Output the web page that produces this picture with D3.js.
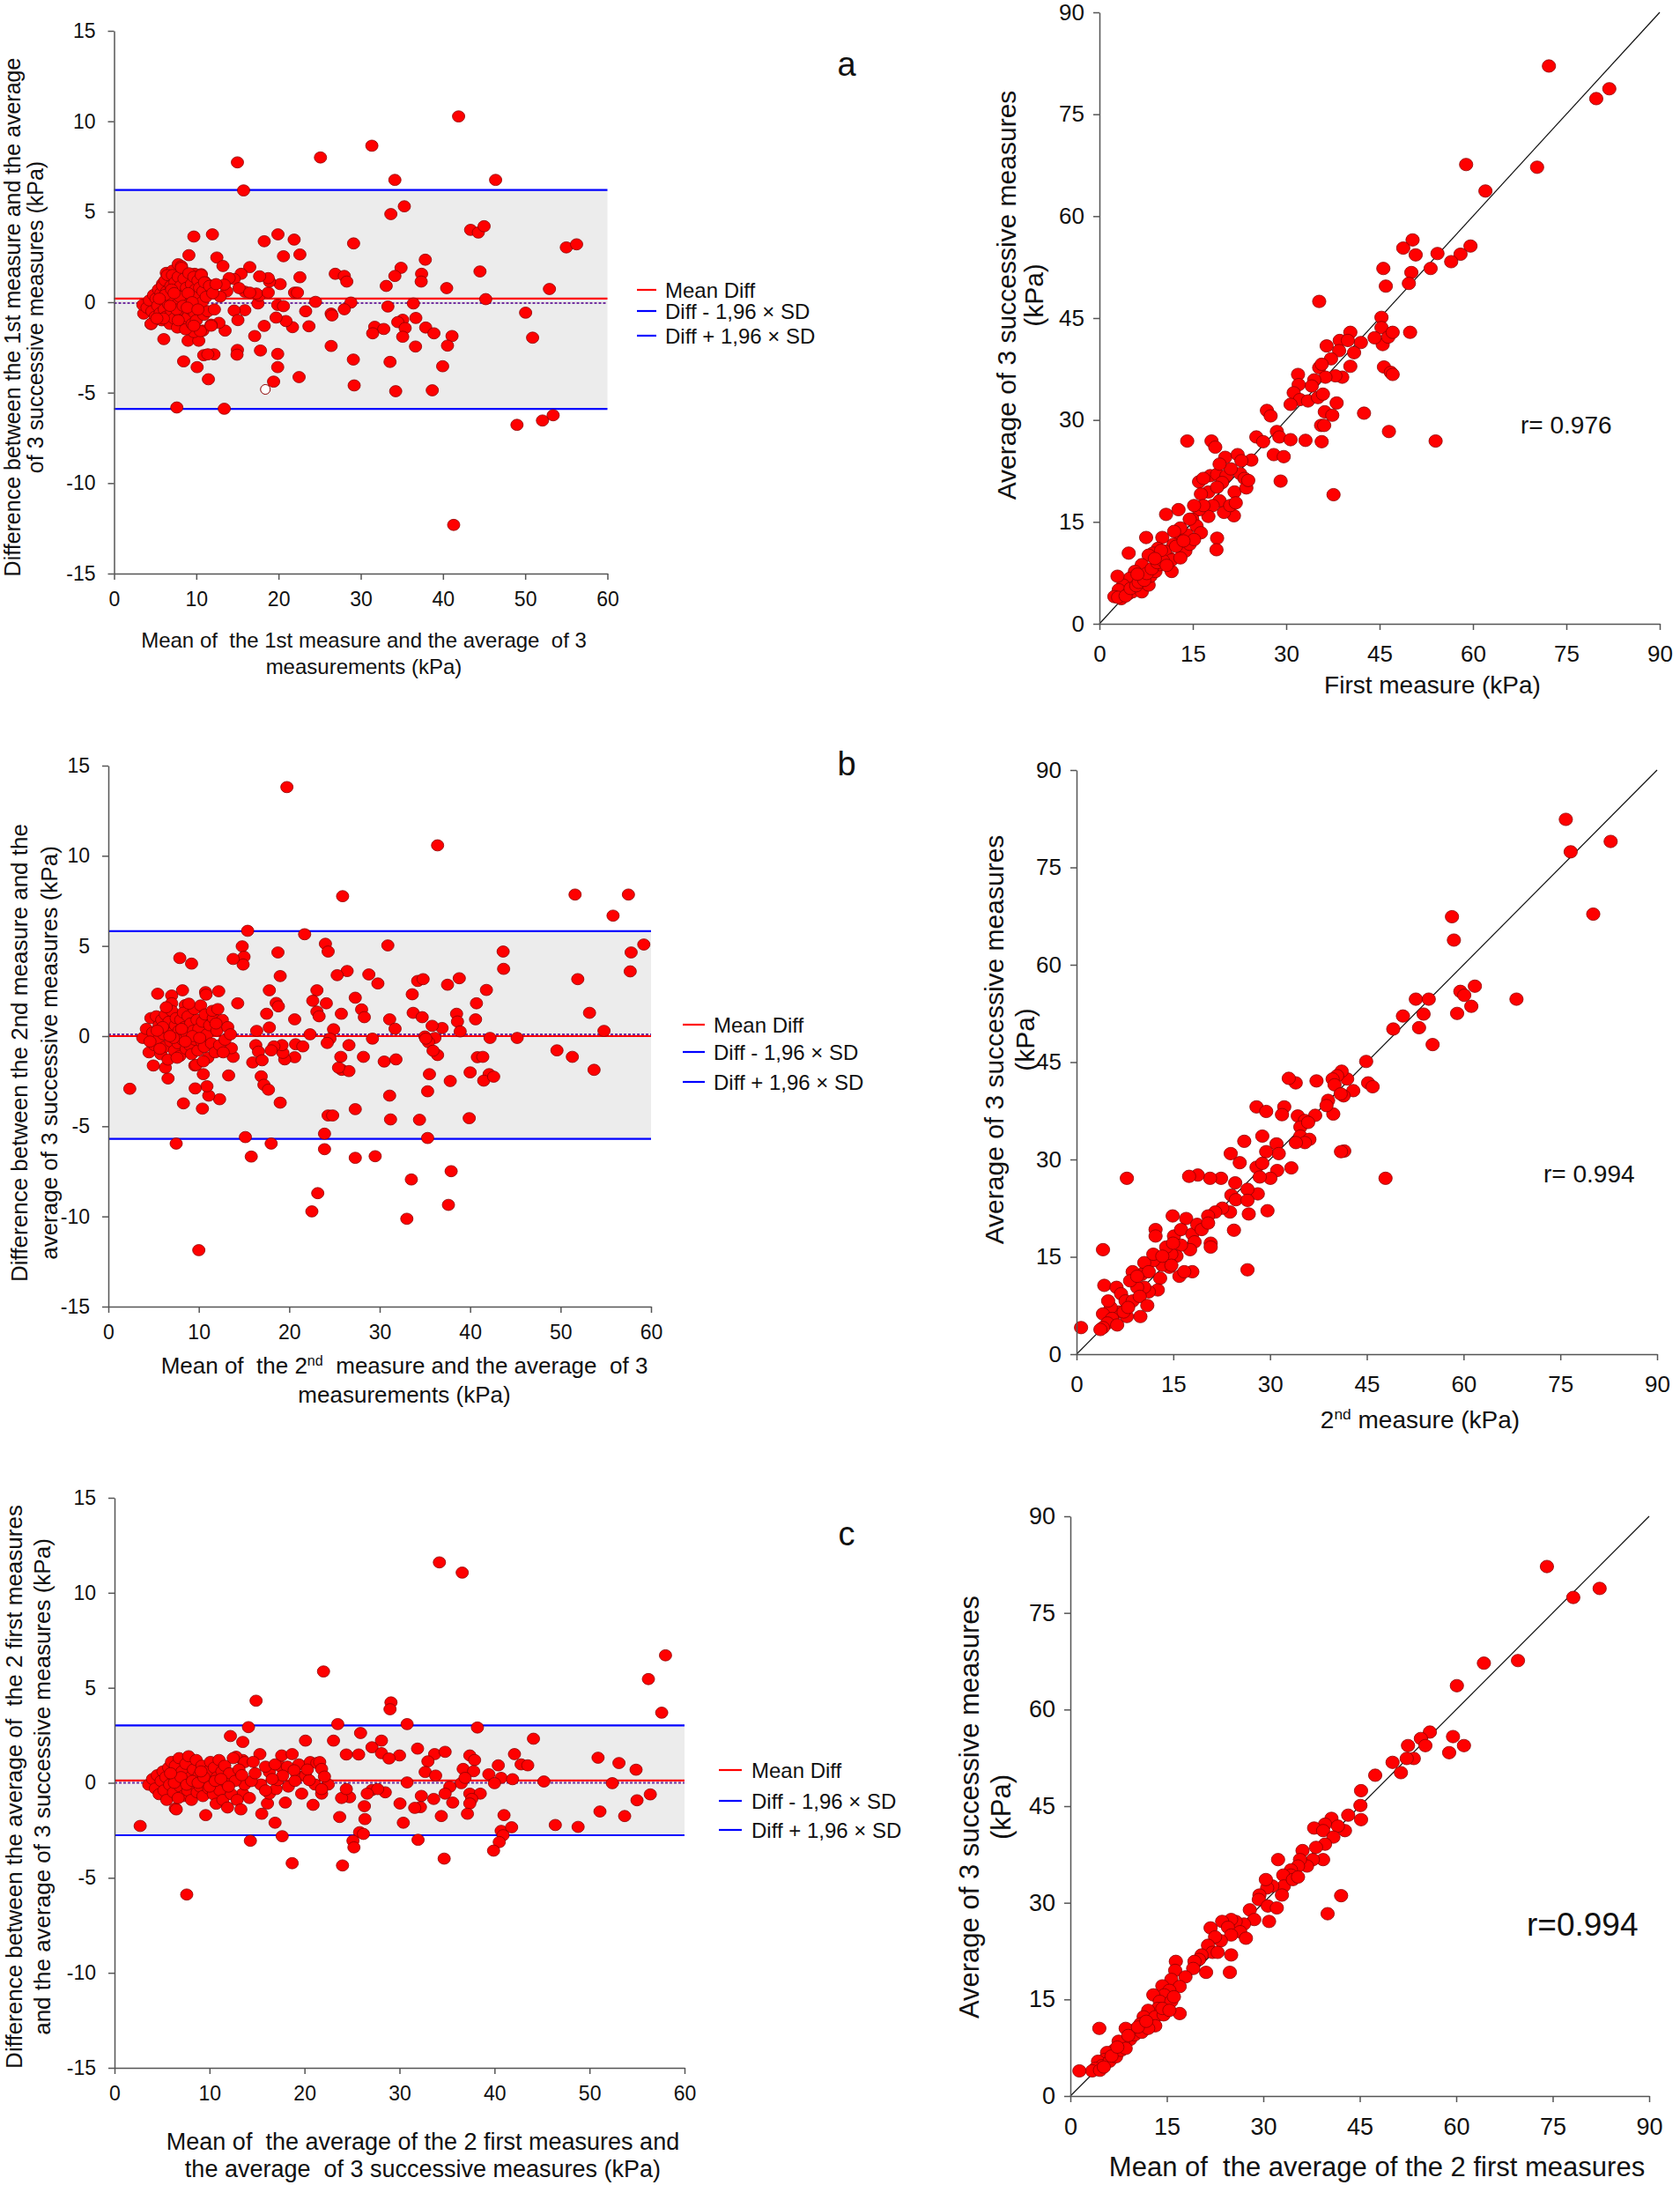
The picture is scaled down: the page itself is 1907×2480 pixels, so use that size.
<!DOCTYPE html>
<html><head><meta charset="utf-8">
<script src="https://cdn.jsdelivr.net/npm/d3@7"></script>
<style>
body{margin:0;background:#fff;}
svg{display:block;}
text{font-family:"Liberation Sans",Arial,sans-serif;fill:#111;}
</style>
</head><body>
<svg id="chart" width="1907" height="2480"></svg>
<script>
// ---------------- DATA ----------------
const baXTicks = [0,10,20,30,40,50,60];
const baYTicks = [-15,-10,-5,0,5,10,15];
const corrTicks = [0,15,30,45,60,75,90];
const legendLabels = ["Mean Diff","Diff - 1,96 \u00d7 SD","Diff + 1,96 \u00d7 SD"];
const meanDiffs = [0.2, 0.0, 0.12];
const dottedDiffs = [-0.05, 0.1, 0.0];
const lowerLimits = [-5.9, -5.7, -2.76];
const upperLimits = [6.2, 5.82, 3.02];
const rLabels = ["r= 0.976","r= 0.994","r=0.994"];
const panelLetters = ["a","b","c"];

const aHollowPts = [[18.4,-4.82]];
const aBlandPts = [
[41.9,10.27],[31.35,8.65],[25.1,8.0],[15.0,7.73],[34.15,6.76],[46.4,6.76],[15.75,6.18],[33.66,4.87],[35.3,5.3],[43.36,4.0],[44.3,3.85],[45.0,4.2],[55.0,3.03],[56.25,3.2],[29.13,3.25],[9.7,3.63],[11.96,3.75],[18.26,3.37],[19.93,3.75],[21.9,3.46],[22.6,2.64],[20.6,2.54],[9.1,2.6],[12.5,2.47],[37.85,2.35],[34.9,1.9],[44.5,1.7],[13.24,2.0],[16.5,1.94],[22.6,1.38],[26.9,1.57],[28.0,1.45],[28.3,1.14],[34.15,1.45],[37.4,1.57],[37.35,1.14],[33.1,0.9],[40.45,0.78],[52.95,0.73],[20.2,1.0],[21.95,0.53],[22.3,0.53],[24.5,0.02],[28.8,-0.02],[36.4,-0.07],[45.2,0.17],[33.3,-0.24],[19.9,-0.15],[20.6,-0.22],[28.0,-0.39],[23.3,-0.5],[26.4,-0.63],[26.5,-0.73],[50.05,-0.58],[36.7,-0.87],[35.1,-0.97],[34.5,-1.1],[31.7,-1.36],[32.8,-1.48],[35.4,-1.43],[31.45,-1.72],[37.9,-1.4],[38.9,-1.72],[35.1,-1.91],[41.1,-1.87],[50.9,-1.96],[40.55,-2.4],[36.66,-2.45],[26.4,-2.42],[23.7,-1.33],[21.7,-1.38],[20.9,-1.04],[19.7,-0.85],[18.26,-1.31],[17.1,-1.87],[17.8,-2.67],[19.9,-2.86],[19.9,-3.59],[15.0,-2.64],[14.95,-2.9],[22.5,-4.14],[19.4,-4.39],[29.1,-3.17],[33.56,-3.3],[39.96,-3.54],[29.2,-4.6],[34.25,-4.92],[38.7,-4.87],[11.47,-4.26],[10.1,-3.59],[8.46,-3.27],[10.9,-2.93],[12.15,-2.88],[11.4,-2.88],[7.63,-5.82],[13.4,-5.89],[49.0,-6.78],[52.1,-6.54],[53.4,-6.25],[41.3,-12.31],[13.5,-1.57],[12.75,-1.14],[11.8,-1.24],[15.9,-0.44],[14.6,-0.46],[15.06,-0.99],[9.0,-2.13],[10.3,-2.13],[6.05,-2.04],[9.7,-1.65],[10.8,-1.57],[17.5,-0.07],[17.67,0.36],[17.3,0.48],[18.75,0.53],[18.9,1.14],[18.75,1.33],[17.7,1.43],[15.9,0.58],[15.45,1.57],[14.6,1.28],[14.0,1.33],[13.7,0.6],[12.9,0.31],[12.0,0.9],[13.4,0.97],[15.2,0.78],[16.5,0.53],
[3.6,-0.63],[3.5,-0.15],[4.5,-1.21],[4.1,-0.3],[4.9,0.17],[5.4,0.65],[5.9,1.02],[6.35,1.62],[7.1,1.74],[7.3,1.14],[7.8,2.1],[8.2,1.99],[8.6,1.5],[9.3,1.43],[9.8,1.57],[10.6,1.55],[11.0,1.14],[11.5,0.95],
[4.0,-0.3],[4.3,0.1],[4.6,-0.5],[4.8,0.4],[5.0,-0.8],[5.1,0.2],[5.3,-0.2],[5.4,0.7],[5.6,-0.6],[5.7,0.5],[5.8,-1.0],[5.9,0.9],[6.0,0.1],[6.1,-0.4],[6.2,1.2],[6.3,-0.8],[6.4,0.6],[6.5,1.5],[6.6,-0.1],[6.7,0.3],[6.8,-1.2],[6.9,0.9],[7.0,-0.5],[7.1,1.5],[7.2,0.2],[7.3,-0.9],[7.4,1.1],[7.5,-0.2],[7.6,0.6],[7.7,-1.4],[7.8,1.4],[7.9,0.0],[8.0,-0.6],[8.1,0.9],[8.2,1.9],[8.3,-1.0],[8.4,0.4],[8.5,1.3],[8.6,-0.3],[8.7,-1.5],[8.8,0.8],[8.9,0.1],[9.0,-0.8],[9.1,1.6],[9.2,0.4],[9.3,-0.4],[9.4,1.0],[9.5,-1.2],[9.6,0.2],[9.7,1.4],[9.8,-0.6],[9.9,0.7],[10.0,-1.0],[10.1,0.3],[10.2,1.2],[10.3,-0.2],[10.4,0.8],[10.5,-1.6],[10.6,1.5],[10.7,0.0],[10.8,0.6],[10.9,-0.7],[11.0,1.1],[11.2,0.3],[11.4,-0.5],[11.6,0.9],[11.8,-1.3],[12.0,0.5],[12.2,-0.4],[12.4,1.0],[6.2,0.4],[7.0,0.7],[7.6,-0.4],[8.0,0.3],[8.4,-0.2],[9.0,0.5],[9.5,0.0],[6.8,-0.2],[5.5,0.2],[7.3,0.5],[8.9,-0.3],[10.2,-0.4],[6.0,-0.9],[7.8,-1.0],[9.7,-1.3],[4.5,-1.2],[5.2,-0.9]
];
const aCorrPts = [
[72.2,82.1],[81.9,78.75],[79.8,77.3],[58.9,67.6],[70.3,67.2],[62.0,63.7],[50.3,56.5],[48.8,55.3],[50.8,54.3],[54.3,54.5],[59.6,55.6],[58.0,54.4],[56.5,53.3],[53.2,52.3],[45.6,52.3],[50.1,51.7],[49.7,50.1],[46.0,49.7],[35.3,47.45],[45.3,45.1],[45.3,43.6],[45.5,41.1],[46.4,42.2],[47.1,42.9],[49.9,42.9],[44.2,42.1],[42.0,41.4],[40.3,42.9],[38.6,41.7],[39.9,41.7],[40.9,39.9],[38.5,40.2],[36.5,40.9],[45.7,37.8],[46.8,37.0],[47.1,36.7],[37.2,39.0],[35.3,37.7],[35.7,38.2],[40.3,37.9],[39.0,36.3],[37.9,36.5],[36.3,36.3],[34.5,35.9],[34.1,35.0],[31.9,36.7],[32.0,35.2],[31.2,34.0],[32.2,33.0],[33.5,32.8],[35.1,33.3],[35.9,33.8],[30.7,32.3],[38.1,32.5],[36.2,31.2],[37.4,30.7],[42.5,31.0],[35.6,29.2],[36.1,29.2],[35.7,26.8],[46.5,28.3],[54.0,26.9],[37.6,19.0],[26.9,31.4],[27.5,30.6],[28.5,28.3],[28.9,27.5],[28.0,24.9],[29.6,24.6],[30.7,27.1],[33.1,27.0],[25.2,27.5],[26.3,26.8],[24.4,24.1],[29.1,21.0],[14.1,26.9],[18.0,26.9],[18.6,26.0],[20.2,24.5],[22.2,24.9],[22.8,24.0],[22.6,22.1],[23.3,21.4],[21.7,19.4],[23.6,20.0],[21.6,15.9],[20.0,16.4],[18.9,12.6],[18.8,10.9],[17.8,21.8],[16.0,20.9],[16.7,21.4],[18.9,22.0],[20.4,21.8],[19.7,20.8],[17.5,19.4],[16.3,19.1],[18.9,20.1],[19.3,18.1],[18.2,17.4],[17.5,15.8],[16.0,16.8],[14.9,15.4],[15.6,14.4],[16.3,13.4],[14.1,13.1],[13.0,14.1],[12.7,16.8],[10.7,16.1],[12.9,12.1],[11.9,11.7],[11.2,9.7],[11.6,7.7],[10.1,12.7],[9.4,11.1],[10.5,10.7],[8.6,10.4],[7.5,12.7],[7.9,10.1],[6.8,8.7],[4.7,10.4],[6.8,6.7],[5.7,7.7],[4.9,6.7],[3.8,5.7],[2.9,7.0],[3.1,5.0],[2.4,4.0],[3.5,3.7],[4.6,4.4],[5.3,4.7],[6.8,4.7],[7.9,5.7],[8.2,7.0],[9.0,7.7],[9.7,8.7],[11.6,9.4],[13.8,10.7],[13.0,9.7],[14.5,11.7],[15.2,12.4],[14.5,15.4],[16.7,17.4],[15.2,17.4],[21.0,17.4],[21.9,17.8],[23.9,21.1],[21.1,22.8],[19.3,23.5],
[3.0,3.9],[4.2,4.1],[5.0,5.2],[5.9,5.6],[6.3,6.1],[7.2,6.4],[7.6,7.4],[8.4,8.1],[9.3,9.0],[10.2,9.3],[10.8,8.6],[12.3,11.4],[13.5,12.2],[9.9,10.8],[8.9,9.6],[6.1,7.3],[12.0,13.6]
];

const bBlandPts = [
[19.74,13.81],[36.4,10.58],[25.9,7.76],[51.6,7.85],[57.5,7.85],[55.8,6.68],[59.2,5.08],[57.8,4.64],[57.7,3.59],[51.9,3.16],[53.2,1.29],[54.8,0.29],[15.4,5.84],[21.7,5.65],[30.9,5.03],[24.0,5.12],[24.3,4.69],[14.8,4.98],[15.0,4.4],[14.9,3.97],[13.8,4.28],[7.9,4.33],[9.2,4.02],[18.75,4.64],[43.65,4.69],[43.7,3.73],[26.4,3.61],[25.3,3.38],[28.8,3.42],[29.8,2.92],[19.0,3.33],[37.5,2.85],[38.8,3.21],[34.2,3.06],[34.8,3.16],[23.06,2.54],[17.8,2.54],[12.2,2.49],[10.75,2.44],[8.2,2.54],[7.0,2.25],[5.45,2.35],[33.6,2.32],[41.8,2.56],[27.3,2.13],[22.6,1.96],[24.1,1.82],[40.7,1.82],[14.3,1.82],[18.56,1.84],[18.8,1.65],[7.0,1.82],[8.5,1.72],[17.5,1.24],[23.06,1.36],[23.3,1.1],[25.76,1.24],[28.0,1.48],[28.3,1.05],[31.1,0.93],[31.7,0.41],[33.7,1.29],[34.7,1.05],[38.5,1.24],[38.6,0.81],[40.6,0.93],[38.9,0.26],[36.9,0.45],[35.8,0.57],[24.9,0.38],[20.6,0.93],[16.4,0.29],[17.8,0.48],[22.3,0.1],[29.2,-0.14],[35.0,-0.02],[36.1,-0.1],[42.2,-0.1],[45.2,-0.1],[49.6,-0.79],[51.3,-1.15],[53.7,-1.87],[40.8,-1.17],[41.4,-1.15],[42.1,-2.11],[41.5,-2.47],[42.6,-2.25],[35.4,-0.34],[35.1,-0.14],[36.4,-1.05],[35.9,-0.81],[35.5,-2.11],[35.3,-3.06],[31.1,-3.3],[31.2,-4.62],[34.4,-4.64],[39.9,-4.55],[35.3,-5.65],[30.5,-1.41],[31.8,-1.29],[28.2,-1.15],[26.6,-0.5],[25.7,-1.15],[25.8,-1.87],[26.6,-1.94],[25.45,-1.75],[24.5,-0.14],[24.2,-0.38],[20.7,-0.45],[21.5,-0.57],[20.6,-1.17],[19.5,-1.29],[19.3,-0.93],[19.2,-0.5],[18.3,-0.57],[18.0,-0.79],[16.3,-0.5],[16.6,-0.86],[15.96,-1.46],[17.0,-1.34],[16.9,-2.23],[17.2,-2.7],[17.7,-2.97],[19.0,-3.69],[13.3,-2.18],[13.8,-1.15],[13.6,-0.67],[12.3,-3.5],[11.1,-3.3],[10.9,-2.78],[10.4,-4.02],[9.6,-2.9],[10.5,-2.11],[9.56,-1.63],[8.3,-3.73],[6.6,-2.35],[6.3,-1.75],[4.97,-1.63],[2.37,-2.92],[24.3,-4.4],[24.8,-4.4],[27.3,-4.05],[37.8,-2.49],[40.0,-2.01],[15.15,-5.6],[15.8,-6.68],[18.0,-5.96],[7.5,-5.96],[23.9,-5.41],[23.9,-6.27],[27.3,-6.75],[29.5,-6.66],[23.15,-8.71],[22.5,-9.72],[33.5,-7.95],[33.0,-10.13],[37.9,-7.49],[37.6,-9.36],[10.0,-11.87],
[3.8,-0.1],[4.2,0.4],[4.5,-0.9],[4.7,1.0],[4.9,0.2],[5.1,-0.5],[5.3,1.1],[5.5,-0.2],[5.6,0.6],[5.8,-1.0],[5.9,0.9],[6.1,0.1],[6.2,-0.6],[6.3,1.2],[6.5,0.4],[6.6,-1.3],[6.7,0.8],[6.9,-0.3],[7.0,1.4],[7.1,0.2],[7.3,-0.8],[7.4,0.6],[7.5,1.0],[7.7,-0.4],[7.8,0.3],[7.9,-1.1],[8.0,0.9],[8.2,-0.2],[8.3,1.3],[8.4,0.5],[8.6,-0.7],[8.7,0.1],[8.8,1.1],[9.0,-0.5],[9.1,0.7],[9.2,-1.0],[9.4,0.3],[9.5,1.5],[9.6,-0.2],[9.8,0.9],[9.9,-0.8],[10.0,0.4],[10.2,1.7],[10.3,-0.3],[10.4,0.8],[10.6,-0.6],[10.7,1.2],[10.9,0.1],[11.0,-1.2],[11.2,0.6],[11.4,-0.4],[11.6,1.0],[11.8,-0.9],[12.0,0.3],[12.3,-0.5],[12.6,0.9],[12.9,-0.2],[13.2,0.5],[6.0,0.5],[7.2,-0.1],[8.1,0.4],[9.3,0.0],[10.1,-0.1],[5.4,0.3],[6.8,0.0],[8.5,-0.3],[4.6,-0.3],[5.7,-0.7],[7.6,-1.2],[9.7,-1.6],[10.5,-1.4],[11.5,1.4],[6.4,1.6],[8.9,1.8],[12.1,1.5],[10.8,2.3],[11.9,0.7],[12.7,-0.9],[13.5,0.1]
];
const bCorrPts = [
[75.85,82.4],[76.6,77.4],[82.8,79.0],[80.1,67.8],[58.2,67.4],[58.5,63.8],[61.75,56.7],[59.5,55.9],[60.1,55.3],[61.2,53.6],[59.0,52.5],[68.2,54.7],[52.6,54.7],[54.6,54.7],[53.8,52.4],[53.1,50.3],[55.2,47.7],[50.6,52.1],[49.1,50.1],[44.9,45.1],[45.2,41.8],[45.9,41.2],[42.9,40.6],[41.95,42.4],[41.1,43.6],[40.4,42.9],[39.7,42.4],[40.0,41.5],[41.4,39.8],[40.95,40.1],[39.8,37.0],[39.0,39.1],[38.75,38.3],[37.2,42.1],[33.98,41.8],[32.9,42.5],[37.0,36.8],[34.3,36.7],[35.4,36.0],[34.7,35.0],[35.9,35.7],[34.7,33.6],[36.1,33.1],[35.4,32.6],[34.0,32.6],[32.2,38.1],[31.85,36.9],[31.0,32.4],[31.35,30.9],[33.3,28.7],[31.1,28.3],[41.5,31.3],[41.0,31.2],[47.9,27.1],[27.9,38.1],[29.4,37.4],[28.8,33.6],[29.4,31.2],[26.0,32.8],[25.3,29.5],[23.9,30.9],[27.9,28.8],[28.8,29.4],[30.05,27.1],[28.4,27.3],[29.6,22.1],[28.1,24.7],[26.5,25.4],[24.6,26.4],[24.0,24.5],[24.7,23.8],[26.5,23.7],[26.7,21.6],[26.5,13.0],[24.4,19.1],[23.8,21.9],[22.6,22.5],[21.5,21.9],[20.4,21.3],[22.4,27.1],[20.7,27.1],[18.8,27.6],[17.45,27.4],[7.8,27.1],[4.1,16.1],[4.3,10.6],[0.7,4.1],[17.0,20.9],[14.9,21.3],[12.25,19.2],[12.25,18.2],[15.1,18.2],[16.2,19.2],[17.95,18.5],[18.7,20.0],[19.4,19.2],[20.4,20.2],[20.8,17.1],[20.8,16.5],[18.3,17.3],[17.6,16.1],[16.2,16.8],[15.5,15.1],[14.7,15.4],[14.4,13.4],[15.95,12.0],[17.95,12.7],[16.7,12.7],[13.3,13.7],[11.9,14.4],[10.5,14.1],[10.1,12.3],[11.2,12.7],[12.96,11.7],[12.6,9.9],[11.2,9.6],[10.5,10.3],[9.4,10.3],[8.7,12.7],[8.3,11.3],[9.4,12.0],[6.2,10.3],[6.9,9.3],[7.6,8.2],[8.7,8.2],[9.8,8.9],[10.97,7.5],[9.9,5.8],[7.8,5.8],[6.55,6.5],[5.3,7.2],[4.9,8.2],[4.1,6.2],[5.5,5.5],[4.8,4.8],[4.1,4.1],[3.7,3.8],[6.3,4.5],[7.3,6.5],[8.0,7.2],[13.9,16.5],[14.96,17.1],[11.9,15.4],[14.7,13.7],[13.3,15.1]
];

const cBlandPts = [
[34.2,11.6],[36.6,11.06],[58.0,6.71],[56.2,5.46],[57.6,3.69],[22.0,5.86],[14.9,4.32],[29.1,4.23],[29.0,3.87],[14.1,2.93],[23.5,3.09],[30.8,3.09],[38.2,2.91],[12.2,2.46],[25.9,2.62],[13.5,2.15],[20.1,2.22],[23.05,2.22],[44.1,2.32],[27.1,1.87],[28.1,2.22],[28.1,1.56],[24.4,1.49],[25.7,1.49],[30.0,1.44],[28.9,1.28],[31.9,1.8],[33.7,1.51],[34.8,1.63],[32.99,1.13],[37.4,1.44],[37.9,1.2],[42.1,1.51],[42.8,0.97],[43.5,0.92],[50.9,1.32],[53.1,1.04],[54.9,0.69],[36.7,0.73],[37.8,0.61],[40.4,0.92],[39.4,0.45],[40.7,0.26],[41.9,0.19],[40.0,-0.02],[45.2,0.07],[52.4,-0.02],[32.7,0.57],[33.8,0.38],[30.8,0.02],[36.5,-0.02],[35.3,-0.21],[36.9,0.26],[37.4,-0.57],[38.5,-0.57],[37.6,-0.85],[37.4,-1.09],[37.15,-1.63],[34.8,-0.57],[33.6,-0.85],[35.6,-1.04],[32.3,-0.69],[32.2,-1.28],[31.6,-1.32],[30.05,-1.09],[30.4,-2.1],[34.4,-1.75],[31.95,-3.0],[34.7,-3.99],[41.0,-1.7],[40.7,-2.53],[41.8,-2.34],[40.9,-2.76],[40.5,-3.12],[39.9,-3.57],[46.4,-2.22],[48.8,-2.32],[51.1,-1.51],[53.7,-1.75],[55.0,-0.92],[56.4,-0.61],[28.5,-0.5],[27.1,-0.38],[27.7,-0.33],[26.6,-0.57],[26.3,-1.23],[26.36,-1.91],[25.8,-2.6],[26.2,-2.69],[25.1,-3.05],[25.2,-3.4],[24.75,-0.76],[23.9,-0.8],[24.4,-0.33],[23.7,-1.8],[24.0,-4.35],[22.5,-0.09],[21.8,-0.57],[20.9,-1.16],[18.7,-4.23],[17.65,-2.81],[16.9,-2.1],[17.98,-1.04],[15.5,-1.63],[16.1,-1.09],[14.3,-3.05],[9.6,-1.7],[6.4,-1.35],[2.7,-2.27],[7.6,-5.88],[13.5,-0.57],[13.7,-0.09],[15.4,-0.09],[16.3,-0.57],[17.0,-0.33],[17.2,0.14],[17.5,0.85],[16.3,0.57],[15.9,0.85],[15.3,1.51],[16.9,0.97],[17.6,1.44],[18.7,1.51],[19.4,0.97],[18.2,0.85],[19.2,0.38],[20.1,0.38],[20.6,1.09],[21.3,1.04],[21.6,1.09],[21.8,0.73],[22.1,0.33],[21.1,-0.09],[20.5,0.14],[19.7,-0.57],[21.8,-0.33],[18.9,0.66],[17.7,0.38],[14.4,0.09],[13.0,0.38],[13.5,1.2],[12.8,1.37],[13.7,1.09],
[3.6,-0.1],[4.0,0.2],[4.3,-0.3],[4.5,0.4],[4.7,-0.6],[4.9,0.1],[5.1,0.6],[5.2,-0.4],[5.4,0.3],[5.5,-0.9],[5.7,0.8],[5.8,-0.1],[6.0,1.1],[6.1,0.4],[6.2,-0.5],[6.4,0.9],[6.5,-1.4],[6.6,0.2],[6.8,1.3],[6.9,-0.2],[7.1,0.6],[7.2,-0.7],[7.4,0.1],[7.5,1.0],[7.7,-0.4],[7.8,1.4],[8.0,0.3],[8.1,-0.9],[8.3,0.7],[8.4,-0.1],[8.6,1.2],[8.7,-0.5],[8.9,0.4],[9.0,-0.2],[9.2,0.9],[9.3,-0.7],[9.5,0.2],[9.8,0.6],[9.9,-0.3],[10.1,1.1],[10.2,0.0],[10.4,-0.6],[10.5,0.8],[10.7,-1.1],[10.8,0.3],[11.0,1.2],[11.1,-0.4],[11.3,0.6],[11.4,-0.9],[11.6,0.9],[11.8,0.0],[11.9,-1.3],[12.1,0.5],[12.3,-0.6],[12.5,1.3],[12.7,0.1],[12.9,-0.9],[13.1,0.7],[13.3,-1.4],[13.4,0.4],[6.3,0.0],[7.0,0.3],[7.6,-0.1],[8.2,0.1],[8.8,0.0],[9.4,0.3],[10.0,-0.2],[10.6,0.1],[11.2,0.2],[5.9,0.5],[6.7,-0.8],[9.1,0.6],[14.2,-0.8],[14.8,0.5],[15.9,-0.4],[16.6,0.2],[18.3,-0.2],[19.0,0.1],[20.3,0.7],[14.6,1.1],[12.0,-0.2]
];
const cCorrPts = [
[74.1,82.2],[78.2,77.4],[82.3,78.8],[69.6,67.6],[64.3,67.2],[60.1,63.7],[55.9,56.5],[54.5,55.5],[52.5,54.4],[55.2,54.4],[59.5,55.8],[61.2,54.4],[58.9,53.3],[53.4,52.4],[52.3,52.4],[50.1,51.8],[51.4,50.2],[47.4,49.8],[45.2,47.4],[45.1,45.1],[45.2,42.9],[43.2,43.6],[42.7,41.2],[40.6,43.1],[39.6,42.2],[37.9,41.6],[39.3,41.2],[41.6,41.9],[40.9,40.2],[39.6,39.1],[38.2,38.6],[39.3,36.7],[37.7,36.7],[36.1,38.1],[36.8,35.7],[35.7,36.7],[35.4,35.7],[34.3,35.1],[34.3,34.3],[32.3,36.7],[33.1,34.3],[33.2,32.6],[34.6,33.6],[35.4,34.0],[31.4,32.6],[32.9,31.2],[30.6,32.3],[30.4,33.6],[29.4,31.2],[29.3,30.5],[30.7,29.5],[32.1,29.2],[30.9,27.1],[40.0,28.3],[42.1,31.1],[27.9,28.9],[28.6,27.4],[27.0,26.7],[25.7,27.1],[25.0,27.4],[23.6,27.1],[21.8,26.1],[24.5,26.2],[26.4,25.5],[27.3,24.5],[25.0,25.0],[23.4,24.1],[22.5,24.7],[21.4,23.4],[22.1,22.3],[20.4,21.9],[20.0,21.2],[22.9,22.3],[25.0,21.9],[24.8,19.2],[19.3,20.9],[21.1,19.2],[19.1,19.8],[16.4,20.9],[16.3,19.5],[17.9,18.5],[15.7,18.1],[17.0,17.0],[14.3,17.1],[15.4,16.4],[14.6,15.7],[12.9,15.7],[13.9,14.7],[15.7,14.7],[16.1,15.4],[17.0,12.8],[13.6,13.6],[12.1,13.3],[11.4,12.3],[13.2,12.3],[14.5,12.6],[13.2,10.9],[10.9,11.2],[9.9,10.2],[8.6,10.5],[4.5,10.5],[9.3,8.8],[8.2,8.1],[7.5,8.5],[6.8,7.1],[5.7,6.75],[5.4,5.7],[4.3,5.4],[4.9,4.7],[3.9,4.3],[3.4,3.9],[1.4,3.9],[6.1,5.4],[7.1,6.1],[7.9,7.1],[8.6,7.4],[10.0,9.5],[11.1,9.9],[12.1,10.5],[14.3,13.6],[15.4,13.3],[4.6,4.0],[5.2,4.5],[6.4,6.2],[7.3,7.6],[9.0,9.4],[10.5,10.7],[11.8,11.6]
];

// ---------------- LAYOUT ----------------
const BLUE = "#0000ff", RED = "#ff0000", PURPLE = "#7030a0", AXIS = "#555", BAND = "#ececec";
const PT_FILL = "#ff0000", PT_STROKE = "#8b0000";
const svg = d3.select("#chart");
const fmt = d => String(d);

const baLayouts = [
 {left:129.5,right:689.5,top:35,bottom:651,tickFont:23,
  xTitle:[["Mean of  the 1st measure and the average  of 3"],["measurements (kPa)"]],xTitleX:413,xTitleY:[735,765],xTitleFont:24,
  yTitle:["Difference between the 1st measure and the average","of 3 successive measures (kPa)"],yTitleX:[14,40],yTitleY:360,yTitleFont:25,
  legend:{x1:723,x2:745,ys:[329,353,381],tx:755},letter:{x:961,y:86}},
 {left:123,right:739,top:869,bottom:1483,tickFont:23,
  xTitle:[["Mean of  the 2","nd","  measure and the average  of 3"],["measurements (kPa)"]],xTitleX:459,xTitleY:[1559,1592],xTitleFont:26,
  yTitle:["Difference between the 2nd measure and the","average of 3 successive measures (kPa)"],yTitleX:[22,56],yTitleY:1195,yTitleFont:26,
  legend:{x1:775,x2:800,ys:[1163,1194,1228],tx:810},letter:{x:961,y:880}},
 {left:130,right:777,top:1700,bottom:2347,tickFont:23,
  xTitle:[["Mean of  the average of the 2 first measures and"],["the average  of 3 successive measures (kPa)"]],xTitleX:480,xTitleY:[2440,2471],xTitleFont:27,
  yTitle:["Difference between the average of  the 2 first measures","and the average of 3 successive measures (kPa)"],yTitleX:[16,48],yTitleY:2028,yTitleFont:26,
  legend:{x1:816,x2:842,ys:[2009,2044,2077],tx:853},letter:{x:961,y:1754}}
];
const corrLayouts = [
 {left:1248,right:1884,top:14,bottom:708,tickFont:26,font:null,
  xTitle:["First measure (kPa)"],xTitleX:1626,xTitleY:787,xTitleFont:28,
  yTitle:["Average of 3 successive measures","(kPa)"],yTitleX:[1142,1173],yTitleY:335,yTitleFont:30,
  r:{x:1726,y:492,size:28}},
 {left:1222,right:1881,top:874,bottom:1537,tickFont:26,font:null,
  xTitle:["2","nd"," measure (kPa)"],xTitleX:1612,xTitleY:1621,xTitleFont:28,
  yTitle:["Average of 3 successive measures","(kPa)"],yTitleX:[1128,1163],yTitleY:1180,yTitleFont:30,
  r:{x:1752,y:1342,size:28}},
 {left:1215,right:1872,top:1721,bottom:2379,tickFont:27,font:"'Open Sans',sans-serif",
  xTitle:["Mean of  the average of the 2 first measures"],xTitleX:1563,xTitleY:2470,xTitleFont:31,
  yTitle:["Average of 3 successive measures","(kPa)"],yTitleX:[1100,1136],yTitleY:2051,yTitleFont:31,
  r:{x:1733,y:2197,size:37}}
];
const baData = [aBlandPts,bBlandPts,cBlandPts];
const corrData = [aCorrPts,bCorrPts,cCorrPts];

function styleAxis(g, size, font){
  g.select(".domain").attr("stroke",AXIS).attr("stroke-width",1.5);
  g.selectAll(".tick line").attr("stroke",AXIS).attr("stroke-width",1.5);
  g.selectAll(".tick text").attr("font-size",size).attr("fill","#111")
    .attr("font-family", font || "'Liberation Sans',Arial,sans-serif");
}
function richText(sel, parts, size){
  parts.forEach((p,i)=>{
    const t = sel.append("tspan").text(p);
    if(i%2===1){ t.attr("font-size",size*0.62).attr("baseline-shift","super"); }
  });
}

function drawBland(i){
  const L = baLayouts[i], pts = baData[i];
  const g = svg.append("g");
  const x = d3.scaleLinear().domain([0,60]).range([L.left,L.right]);
  const y = d3.scaleLinear().domain([-15,15]).range([L.bottom,L.top]);
  g.append("rect").attr("x",x(0)).attr("width",x(60)-x(0))
    .attr("y",y(upperLimits[i])).attr("height",y(lowerLimits[i])-y(upperLimits[i])).attr("fill",BAND);
  [upperLimits[i],lowerLimits[i]].forEach(v=>{
    g.append("line").attr("x1",x(0)).attr("x2",x(60)).attr("y1",y(v)).attr("y2",y(v))
      .attr("stroke",BLUE).attr("stroke-width",2.2);
  });
  g.append("line").attr("x1",x(0)).attr("x2",x(60)).attr("y1",y(meanDiffs[i])).attr("y2",y(meanDiffs[i]))
    .attr("stroke",RED).attr("stroke-width",2.2);
  g.append("line").attr("x1",x(0)).attr("x2",x(60)).attr("y1",y(dottedDiffs[i])).attr("y2",y(dottedDiffs[i]))
    .attr("stroke",PURPLE).attr("stroke-width",2).attr("stroke-dasharray","3,2");
  g.append("g").selectAll("ellipse").data(pts).join("ellipse")
    .attr("cx",d=>x(d[0])).attr("cy",d=>y(d[1])).attr("rx",7).attr("ry",6.4)
    .attr("fill",PT_FILL).attr("stroke",PT_STROKE).attr("stroke-width",0.8);
  if(i===0){
    g.append("g").selectAll("circle").data(aHollowPts).join("circle")
      .attr("cx",d=>x(d[0])).attr("cy",d=>y(d[1])).attr("r",5.5)
      .attr("fill","#fff").attr("stroke",PT_STROKE).attr("stroke-width",1);
  }
  const gx = g.append("g").attr("transform",`translate(0,${L.bottom})`)
    .call(d3.axisBottom(x).tickValues(baXTicks).tickFormat(fmt).tickSize(7).tickSizeOuter(0).tickPadding(14));
  styleAxis(gx, L.tickFont);
  const gy = g.append("g").attr("transform",`translate(${L.left},0)`)
    .call(d3.axisLeft(y).tickValues(baYTicks).tickFormat(fmt).tickSize(7).tickSizeOuter(0).tickPadding(14));
  styleAxis(gy, L.tickFont);
  L.xTitle.forEach((parts,k)=>{
    const t = g.append("text").attr("x",L.xTitleX).attr("y",L.xTitleY[k]).attr("text-anchor","middle")
      .attr("font-size",L.xTitleFont).style("white-space","pre");
    richText(t, parts, L.xTitleFont);
  });
  L.yTitle.forEach((s,k)=>{
    g.append("text").attr("transform",`translate(${L.yTitleX[k]},${L.yTitleY}) rotate(-90)`)
      .attr("text-anchor","middle").attr("dominant-baseline","central")
      .attr("font-size",L.yTitleFont).style("white-space","pre").text(s);
  });
  const lg = g.append("g");
  legendLabels.forEach((s,k)=>{
    const yy = L.legend.ys[k];
    lg.append("line").attr("x1",L.legend.x1).attr("x2",L.legend.x2).attr("y1",yy).attr("y2",yy)
      .attr("stroke",k===0?RED:BLUE).attr("stroke-width",2.2);
    lg.append("text").attr("x",L.legend.tx).attr("y",yy+8.5).attr("font-size",24).text(s);
  });
  g.append("text").attr("x",L.letter.x).attr("y",L.letter.y).attr("text-anchor","middle")
    .attr("font-size",38).text(panelLetters[i]);
}

function drawCorr(i){
  const L = corrLayouts[i], pts = corrData[i];
  const g = svg.append("g");
  const x = d3.scaleLinear().domain([0,90]).range([L.left,L.right]);
  const y = d3.scaleLinear().domain([0,90]).range([L.bottom,L.top]);
  g.append("line").attr("x1",x(0)).attr("y1",y(0)).attr("x2",x(90)).attr("y2",y(90))
    .attr("stroke","#111").attr("stroke-width",1.2);
  g.append("g").selectAll("ellipse").data(pts).join("ellipse")
    .attr("cx",d=>x(d[0])).attr("cy",d=>y(d[1])).attr("rx",7.6).attr("ry",7.1)
    .attr("fill",PT_FILL).attr("stroke",PT_STROKE).attr("stroke-width",0.8);
  const gx = g.append("g").attr("transform",`translate(0,${L.bottom})`)
    .call(d3.axisBottom(x).tickValues(corrTicks).tickFormat(fmt).tickSize(7).tickSizeOuter(0).tickPadding(18));
  styleAxis(gx, L.tickFont, L.font);
  const gy = g.append("g").attr("transform",`translate(${L.left},0)`)
    .call(d3.axisLeft(y).tickValues(corrTicks).tickFormat(fmt).tickSize(7).tickSizeOuter(0).tickPadding(10));
  styleAxis(gy, L.tickFont, L.font);
  const xt = g.append("text").attr("x",L.xTitleX).attr("y",L.xTitleY).attr("text-anchor","middle")
    .attr("font-size",L.xTitleFont).style("white-space","pre");
  if(L.font) xt.attr("font-family",L.font);
  richText(xt, L.xTitle, L.xTitleFont);
  L.yTitle.forEach((s,k)=>{
    g.append("text").attr("transform",`translate(${L.yTitleX[k]},${L.yTitleY}) rotate(-90)`)
      .attr("text-anchor","middle").attr("dominant-baseline","central")
      .attr("font-size",L.yTitleFont).text(s);
  });
  const rt = g.append("text").attr("x",L.r.x).attr("y",L.r.y).attr("font-size",L.r.size).text(rLabels[i]);
  if(L.font) rt.attr("font-family",L.font);
}

[0,1,2].forEach(i=>{ drawBland(i); drawCorr(i); });
</script>
</body></html>
